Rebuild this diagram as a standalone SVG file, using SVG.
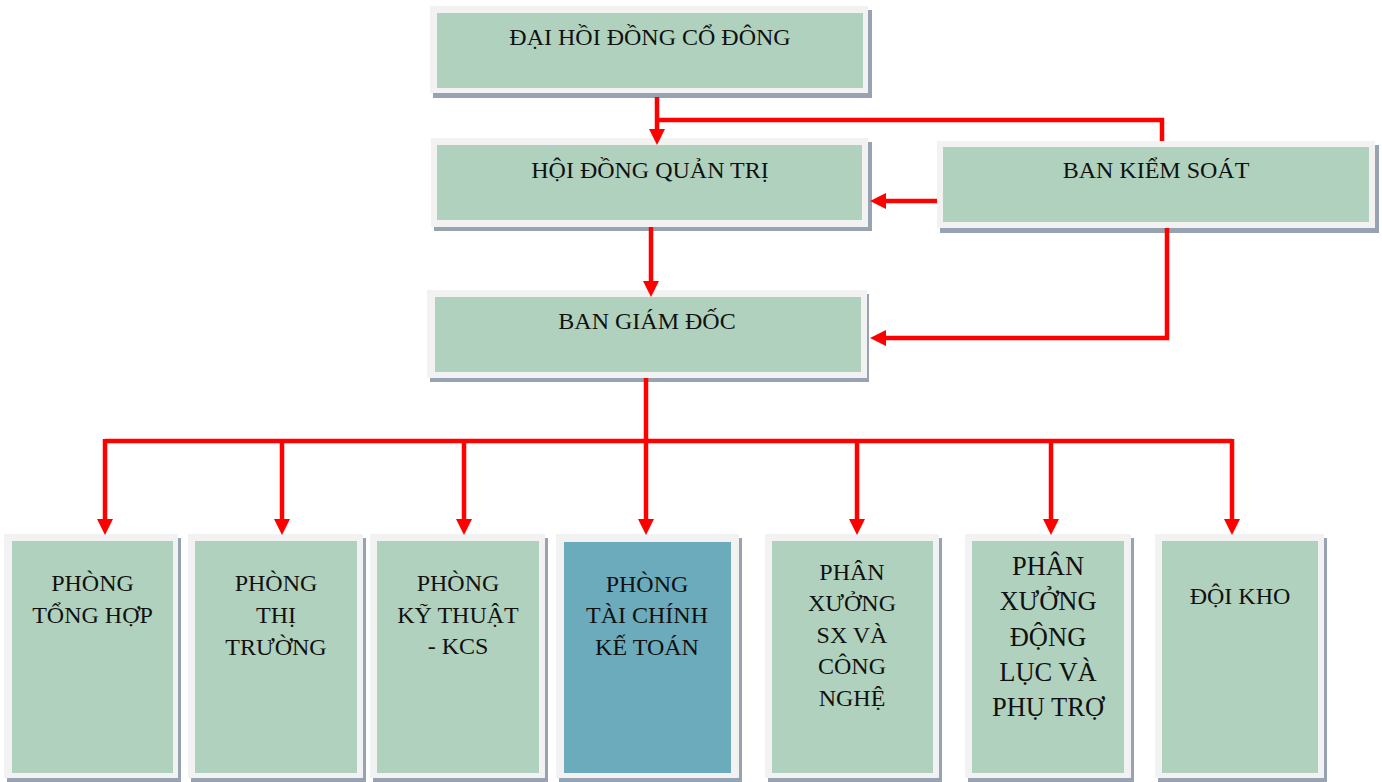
<svg xmlns="http://www.w3.org/2000/svg" width="1382" height="782" viewBox="0 0 1382 782">
  <style>
    .shadow { fill: #97A2B3; }
    .frame { fill: #F2F2F2; }
    .inner { fill: #B0D1BE; }
    .blue { fill: #6BABBC; }
    .t { font-family: "Liberation Serif", "Times New Roman", serif; font-size: 24px; fill: #111111; text-anchor: middle; }
    .tb { font-size: 26.5px; }
    .c { fill: none; stroke: #FF0000; stroke-width: 4.5; stroke-linejoin: miter; }
  </style>
  <defs>
    <marker id="ah" viewBox="0 0 16 16" refX="8" refY="8" markerWidth="16" markerHeight="16" markerUnits="userSpaceOnUse" orient="auto">
      <path d="M0,0 L16,8 L0,16 z" fill="#FF0000"/>
    </marker>
  </defs>
  <rect width="1382" height="782" fill="#FFFFFF"/>

  <g id="dhdcd">
    <rect class="shadow" x="433" y="10" width="439" height="88"/>
    <rect class="frame" x="430" y="6" width="438" height="87"/>
    <rect class="inner" x="437" y="13" width="426" height="75"/>
    <text class="t" x="650" y="45">ĐẠI HỒI ĐỒNG CỔ ĐÔNG</text>
  </g>

  <g id="hdqt">
    <rect class="shadow" x="434" y="142" width="438" height="89"/>
    <rect class="frame" x="431" y="138" width="437" height="89"/>
    <rect class="inner" x="437" y="145" width="425" height="75"/>
    <text class="t" x="650" y="178">HỘI ĐỒNG QUẢN TRỊ</text>
  </g>

  <g id="bks">
    <rect class="shadow" x="940" y="145" width="439" height="88"/>
    <rect class="frame" x="937" y="141" width="438" height="87"/>
    <rect class="inner" x="943" y="147" width="426" height="75"/>
    <text class="t" x="1156" y="178">BAN KIỂM SOÁT</text>
  </g>

  <g id="bgd">
    <rect class="shadow" x="430" y="294" width="439" height="88"/>
    <rect class="frame" x="427" y="290" width="440" height="88"/>
    <rect class="inner" x="435" y="297" width="426" height="75"/>
    <text class="t" x="647" y="329">BAN GIÁM ĐỐC</text>
  </g>

  <g id="p1">
    <rect class="shadow" x="7" y="538" width="174" height="250"/>
    <rect class="frame" x="4" y="534" width="174" height="244"/>
    <rect class="inner" x="12" y="541" width="161" height="232"/>
    <text class="t" x="92.5" y="591">PHÒNG</text>
    <text class="t" x="92.5" y="623">TỔNG HỢP</text>
  </g>

  <g id="p2">
    <rect class="shadow" x="191" y="538" width="175" height="250"/>
    <rect class="frame" x="188" y="534" width="175" height="244"/>
    <rect class="inner" x="195" y="541" width="162" height="232"/>
    <text class="t" x="276" y="591">PHÒNG</text>
    <text class="t" x="276" y="623">THỊ</text>
    <text class="t" x="276" y="655">TRƯỜNG</text>
  </g>

  <g id="p3">
    <rect class="shadow" x="373" y="538" width="175" height="250"/>
    <rect class="frame" x="370" y="534" width="175" height="244"/>
    <rect class="inner" x="377" y="541" width="162" height="232"/>
    <text class="t" x="458" y="591">PHÒNG</text>
    <text class="t" x="458" y="623">KỸ THUẬT</text>
    <text class="t" x="458" y="654">- KCS</text>
  </g>

  <g id="p4">
    <rect class="shadow" x="559" y="538" width="183" height="250"/>
    <rect class="frame" x="556" y="534" width="183" height="244"/>
    <rect class="blue" x="564" y="542" width="167" height="231"/>
    <text class="t" x="647" y="592">PHÒNG</text>
    <text class="t" x="647" y="623">TÀI CHÍNH</text>
    <text class="t" x="647" y="655">KẾ TOÁN</text>
  </g>

  <g id="p5">
    <rect class="shadow" x="768" y="538" width="174" height="250"/>
    <rect class="frame" x="765" y="534" width="174" height="244"/>
    <rect class="inner" x="772" y="541" width="161" height="232"/>
    <text class="t" x="852" y="580">PHÂN</text>
    <text class="t" x="852" y="611">XƯỞNG</text>
    <text class="t" x="852" y="643">SX VÀ</text>
    <text class="t" x="852" y="674">CÔNG</text>
    <text class="t" x="852" y="706">NGHỆ</text>
  </g>

  <g id="p6">
    <rect class="shadow" x="968" y="538" width="166" height="250"/>
    <rect class="frame" x="965" y="534" width="166" height="244"/>
    <rect class="inner" x="972" y="541" width="152" height="232"/>
    <text class="t tb" x="1048" y="575">PHÂN</text>
    <text class="t tb" x="1048" y="610">XƯỞNG</text>
    <text class="t tb" x="1048" y="646">ĐỘNG</text>
    <text class="t tb" x="1048" y="681">LỤC VÀ</text>
    <text class="t tb" x="1048" y="716">PHỤ TRỢ</text>
  </g>

  <g id="p7">
    <rect class="shadow" x="1158" y="538" width="169" height="250"/>
    <rect class="frame" x="1155" y="534" width="169" height="244"/>
    <rect class="inner" x="1162" y="541" width="156" height="232"/>
    <text class="t" x="1240" y="604">ĐỘI KHO</text>
  </g>

  <g id="connectors">
    <path class="c" d="M657,97 V137" marker-end="url(#ah)"/>
    <path class="c" d="M657,120 H1162 V141"/>
    <path class="c" d="M937,201 H878" marker-end="url(#ah)"/>
    <path class="c" d="M1167,228 V338 H878" marker-end="url(#ah)"/>
    <path class="c" d="M651,227 V289" marker-end="url(#ah)"/>
    <path class="c" d="M646,378 V441"/>
    <path class="c" d="M105,441 H1232"/>
    <path class="c" d="M105,439 V527" marker-end="url(#ah)"/>
    <path class="c" d="M282,441 V527" marker-end="url(#ah)"/>
    <path class="c" d="M464,441 V527" marker-end="url(#ah)"/>
    <path class="c" d="M646,441 V527" marker-end="url(#ah)"/>
    <path class="c" d="M857,441 V527" marker-end="url(#ah)"/>
    <path class="c" d="M1051,441 V527" marker-end="url(#ah)"/>
    <path class="c" d="M1232,439 V527" marker-end="url(#ah)"/>
  </g>
</svg>
